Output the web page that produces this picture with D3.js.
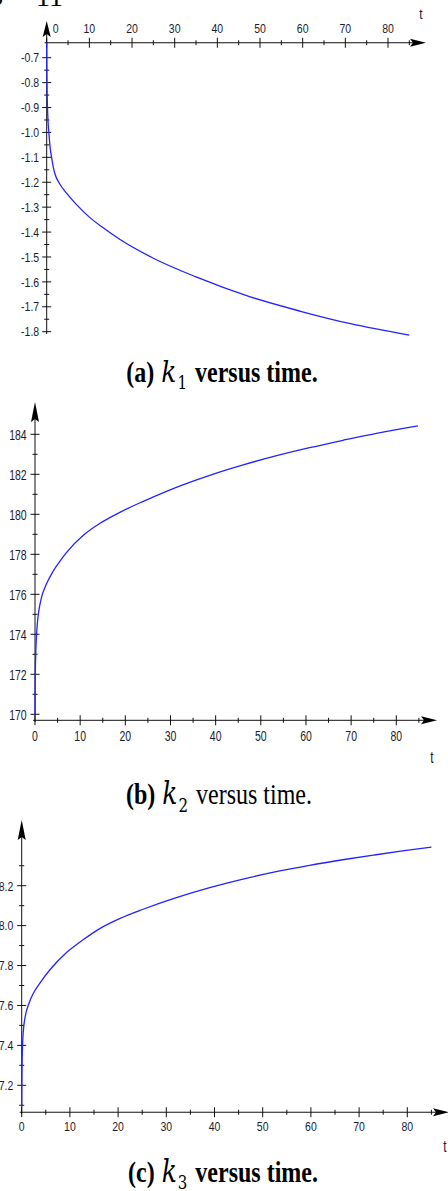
<!DOCTYPE html>
<html>
<head>
<meta charset="utf-8">
<script src="https://cdn.jsdelivr.net/npm/d3@7"></script>
<style>
  body { margin: 0; background: #fff; }
  svg { display: block; }
</style>
</head>
<body>
<div id="chart"></div>
<script>
// values (t, k)
var k1T = [0, 0.05, 0.15, 0.3, 0.55, 0.8, 1.2, 1.55, 2.0, 3.0, 4.7, 7.0, 10, 13, 17.2, 25, 35, 47.7, 59.5, 71.2, 85];
var k1V = [-0.64, -0.78, -0.88, -0.95, -1.01, -1.06, -1.105, -1.14, -1.17, -1.205, -1.245, -1.29, -1.34, -1.38, -1.43, -1.505, -1.58, -1.66, -1.718, -1.768, -1.814];

var k2T = [0, 0.05, 0.15, 0.3, 0.5, 0.8, 1.1, 1.5, 2.5, 4, 5.5, 7, 10.7, 14.4, 18.8, 24, 31.3, 38.7, 46.1, 53.5, 60.8, 68.2, 75.6, 84.8];
var k2V = [170, 171.7, 172.9, 173.8, 174.5, 175.1, 175.5, 175.9, 176.5, 177.15, 177.65, 178.1, 178.95, 179.55, 180.1, 180.65, 181.35, 181.95, 182.47, 182.93, 183.33, 183.7, 184.05, 184.42];

var k3T = [0, 0.05, 0.15, 0.33, 0.7, 1.5, 2.4, 4, 5.9, 9.3, 12.8, 16.2, 20.3, 25.2, 32.1, 39, 45.9, 52.8, 59.7, 66.6, 73.5, 79, 85];
var k3V = [7.09, 7.26, 7.38, 7.47, 7.54, 7.61, 7.66, 7.72, 7.78, 7.865, 7.93, 7.985, 8.035, 8.082, 8.14, 8.19, 8.233, 8.27, 8.302, 8.33, 8.355, 8.374, 8.393];

//tick values
var tTicks = [0, 10, 20, 30, 40, 50, 60, 70, 80];
var tMinor = [5, 15, 25, 35, 45, 55, 65, 75, 85];
var k1Ticks = [-0.7, -0.8, -0.9, -1.0, -1.1, -1.2, -1.3, -1.4, -1.5, -1.6, -1.7, -1.8];
var k1Minor = [-0.75, -0.85, -0.95, -1.05, -1.15, -1.25, -1.35, -1.45, -1.55, -1.65, -1.75];
var k2Ticks = [170, 172, 174, 176, 178, 180, 182, 184];
var k2Minor = [171, 173, 175, 177, 179, 181, 183];
var k3Ticks = [7.2, 7.4, 7.6, 7.8, 8.0, 8.2];
var k3Minor = [7.1, 7.3, 7.5, 7.7, 7.9, 8.1, 8.3];

var width = 448, height = 1191;
var lineColor = "#2323ff";
var labelColor = "#1c1c30";

var svg = d3.select("#chart").append("svg")
    .attr("width", width)
    .attr("height", height);

///////////////////////////////////////////////////////////////////////////
////////////////////////// one Maple style panel //////////////////////////
///////////////////////////////////////////////////////////////////////////

function drawPanel(p) {
  var x = d3.scaleLinear().domain([0, 80]).range(p.xRange);
  var y = d3.scaleLinear().domain(p.yDomain).range(p.yRange);
  var g = svg.append("g");

  var x0 = x(0), ax = y(p.yCross);
  var fmt = function(v) { return d3.format(p.fmt)(v).replace("\u2212", "-"); };

  // axes lines
  g.append("line").attr("x1", x0 - 2).attr("x2", p.xTip - 6)
    .attr("y1", ax).attr("y2", ax)
    .attr("stroke", "#111").attr("stroke-width", 1);
  g.append("line").attr("x1", x0).attr("x2", x0)
    .attr("y1", p.yBottom).attr("y2", p.yTip + 6)
    .attr("stroke", "#111").attr("stroke-width", 1);

  // arrows
  g.append("path")
    .attr("d", "M" + p.xTip + "," + ax + "L" + (p.xTip - 16) + "," + (ax - 4) +
               "L" + (p.xTip - 13) + "," + ax + "L" + (p.xTip - 16) + "," + (ax + 4) + "Z")
    .attr("fill", "#000");
  g.append("path")
    .attr("d", "M" + x0 + "," + p.yTip + "L" + (x0 - 4) + "," + (p.yTip + p.yArrow) +
               "L" + x0 + "," + (p.yTip + p.yArrow - 3) + "L" + (x0 + 4) + "," + (p.yTip + p.yArrow) + "Z")
    .attr("fill", "#000");

  // t ticks
  g.selectAll(".tmaj").data(tTicks).enter().append("line")
    .attr("x1", function(d) { return x(d); }).attr("x2", function(d) { return x(d); })
    .attr("y1", ax - 5).attr("y2", ax + 5)
    .attr("stroke", "#111").attr("stroke-width", 1);
  g.selectAll(".tmin").data(tMinor).enter().append("line")
    .attr("x1", function(d) { return x(d); }).attr("x2", function(d) { return x(d); })
    .attr("y1", ax - 2.5).attr("y2", ax + 2.5)
    .attr("stroke", "#111").attr("stroke-width", 1);

  // k ticks
  g.selectAll(".kmaj").data(p.ticks).enter().append("line")
    .attr("y1", function(d) { return y(d); }).attr("y2", function(d) { return y(d); })
    .attr("x1", x0 - 4.5).attr("x2", x0 + 4.5)
    .attr("stroke", "#111").attr("stroke-width", 1);
  g.selectAll(".kmin").data(p.minor).enter().append("line")
    .attr("y1", function(d) { return y(d); }).attr("y2", function(d) { return y(d); })
    .attr("x1", x0 - 2.5).attr("x2", x0 + 2.5)
    .attr("stroke", "#111").attr("stroke-width", 1);

  // tick labels (the scan is stretched vertically, hence scale)
  g.selectAll(".tlab").data(tTicks).enter().append("text")
    .attr("transform", function(d) {
      var xx = x(d) + (d === 0 ? p.zeroShift : 0);
      return "translate(" + xx + "," + (ax + p.tLabelDy) + ") scale(1," + p.sy + ")";
    })
    .attr("text-anchor", "middle")
    .style("font-family", "'Liberation Sans', Arial, sans-serif")
    .style("font-size", "10.5px")
    .style("fill", labelColor)
    .text(function(d) { return d; });

  g.selectAll(".klab").data(p.ticks).enter().append("text")
    .attr("transform", function(d) {
      return "translate(" + (x0 - p.kLabelDx) + "," + (y(d) + 3.7 * p.sy) + ") scale(1," + p.sy + ")";
    })
    .attr("text-anchor", "end")
    .style("font-family", "'Liberation Sans', Arial, sans-serif")
    .style("font-size", "10.5px")
    .style("fill", labelColor)
    .text(fmt);

  g.append("text")
    .attr("transform", "translate(" + p.tPos[0] + "," + p.tPos[1] + ") scale(1," + p.sy + ")")
    .attr("text-anchor", "middle")
    .style("font-family", "'Liberation Sans', Arial, sans-serif")
    .style("font-size", "12px")
    .style("fill", labelColor)
    .text("t");

  // the curve
  var line = d3.line()
    .x(function(d) { return x(d[0]); })
    .y(function(d) { return y(d[1]); })
    .curve(d3.curveMonotoneX);

  g.append("path")
    .datum(d3.zip(p.t, p.v))
    .attr("d", line)
    .attr("fill", "none")
    .attr("stroke", lineColor)
    .attr("stroke-width", 1.3);

  // caption
  var cap = svg.append("text")
    .attr("transform", "translate(" + p.capX + "," + p.capY + ") scale(1," + p.capSy + ")")
    .attr("text-anchor", "middle")
    .style("font-family", "'Liberation Serif', 'Times New Roman', serif")
    .style("font-size", "24px")
    .style("fill", "#000");
  cap.append("tspan").style("font-weight", "bold").text(p.label + " ");
  cap.append("tspan")
    .style("font-family", "'DejaVu Serif', serif")
    .style("font-style", "italic").style("font-size", "25px").attr("dx", 1).text("k");
  cap.append("tspan")
    .style("font-family", "'DejaVu Serif', serif")
    .style("font-size", "15px").attr("dy", 6).attr("dx", 1).text(p.sub);
  cap.append("tspan").attr("dy", -6).attr("dx", 2)
    .style("font-weight", p.boldTail ? "bold" : "normal")
    .text(" versus time.");
}

// fragment of the previous caption, cut at the top edge
svg.append("text")
  .attr("x", 36).attr("y", 6)
  .style("font-family", "'Liberation Serif', serif")
  .style("font-size", "28px")
  .text("11");
svg.append("text")
  .attr("x", -9).attr("y", 5)
  .style("font-family", "'Liberation Serif', serif")
  .style("font-size", "24px")
  .text("o");

drawPanel({
  t: k1T, v: k1V, ticks: k1Ticks, minor: k1Minor, fmt: ".1f",
  xRange: [46.7, 388], yDomain: [-0.7, -1.8], yRange: [57.7, 331.7], yCross: -0.64,
  xTip: 426, yTip: 21, yArrow: 16, yBottom: 334,
  tLabelDy: -10, zeroShift: 9, kLabelDx: 7.5, sy: 1.25, tPos: [421, 19],
  label: "(a)", sub: "1", boldTail: true, capX: 222, capY: 382, capSy: 1.2
});

drawPanel({
  t: k2T, v: k2V, ticks: k2Ticks, minor: k2Minor, fmt: "d",
  xRange: [35, 396.3], yDomain: [170, 184], yRange: [714.3, 434.3], yCross: 169.7,
  xTip: 437, yTip: 402, yArrow: 20, yBottom: 722,
  tLabelDy: 20.5, zeroShift: 0, kLabelDx: 8.3, sy: 1.45, tPos: [432, 763],
  label: "(b)", sub: "2", boldTail: false, capX: 219, capY: 804, capSy: 1.25
});

drawPanel({
  t: k3T, v: k3V, ticks: k3Ticks, minor: k3Minor, fmt: ".1f",
  xRange: [21.7, 407.3], yDomain: [7.2, 8.2], yRange: [1085.3, 885.7], yCross: 7.065,
  xTip: 449, yTip: 820, yArrow: 20, yBottom: 1114,
  tLabelDy: 18.5, zeroShift: 0, kLabelDx: 8.4, sy: 1.3, tPos: [445, 1152],
  label: "(c)", sub: "3", boldTail: true, capX: 223, capY: 1181.7, capSy: 1.25
});
</script>
</body>
</html>
